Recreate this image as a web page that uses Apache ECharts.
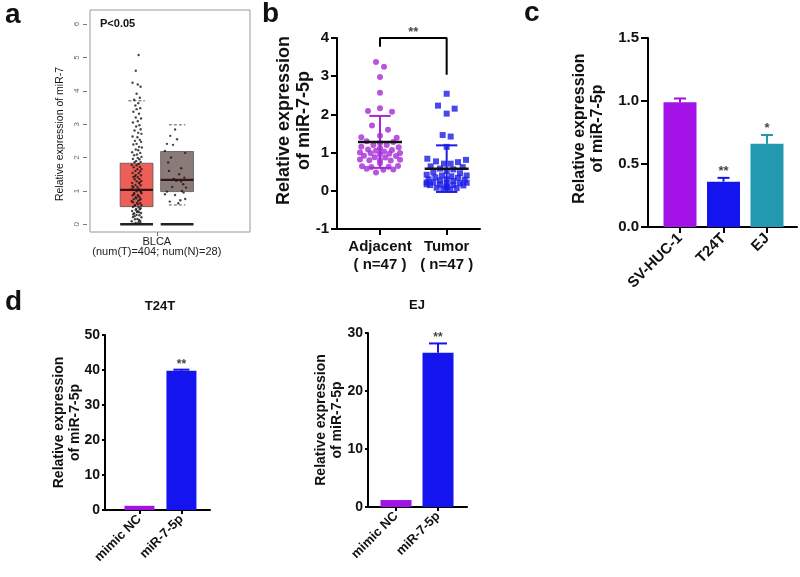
<!DOCTYPE html>
<html>
    <head>
        <title>mir7_panels</title>
        <script src="https://cdnjs.cloudflare.com/ajax/libs/echarts/6.0.0/echarts.min.js"></script>
        <style>
            body { margin: 0; background: #fff; }
        </style>
    </head>
    <body>
        <div id="main" style="width: 800px; height: 577px;"></div>
        <script>
            // ---- panel a : GEPIA box plot (BLCA)
            var aGroups = ['Tumor', 'Normal'];
            // [lower whisker, Q1, median, Q3, upper whisker]
            var aBoxes = [
                [0, 0.53, 1.03, 1.83, 3.7],
                [0.58, 0.98, 1.33, 2.18, 2.98]
            ];
            // jittered points: [offset from group, value]
            var aTumorPts = [
                [0.05,5.07],[-0.02,4.6],[-0.1,4.24],[0.03,4.19],[0.1,4.12],[0.0,3.91],[0.08,3.79],[-0.06,3.73],
                [0.04,3.63],[-0.03,3.56],[0.09,3.48],[0.0,3.45],[-0.08,3.37],[0.06,3.31],[-0.02,3.2],[0.11,3.17],
                [0.03,3.09],[-0.09,3.05],[0.07,2.97],[-0.01,2.93],[0.1,2.85],[-0.05,2.81],[0.04,2.74],[0.12,2.71],
                [-0.1,2.63],[0.02,2.61],[0.08,2.53],[-0.04,2.5],[0.11,2.47],[0.0,2.41],[-0.08,2.39],[0.06,2.32],
                [0.13,2.3],[-0.02,2.24],[0.04,2.22],[-0.11,2.16],[0.09,2.14],[0.01,2.09],[-0.06,2.07],[0.12,2.02],
                [0.03,1.99],[-0.09,1.96],[0.07,1.95],[-0.01,1.9],[0.1,1.87],[-0.05,1.86],[0.05,1.81],[-0.12,1.78],
                [0.0,1.77],[0.08,1.72],[-0.07,1.71],[0.12,1.66],[0.02,1.65],[-0.03,1.6],[0.09,1.59],[-0.1,1.54],
                [0.05,1.53],[-0.02,1.48],[0.11,1.47],[-0.08,1.42],[0.03,1.41],[0.07,1.36],[-0.05,1.35],[0.12,1.3],
                [0.0,1.29],[-0.11,1.24],[0.06,1.23],[-0.03,1.18],[0.1,1.17],[0.02,1.12],[-0.08,1.11],[0.05,1.06],
                [-0.12,1.05],[0.09,1.0],[0.0,0.99],[-0.06,0.94],[0.12,0.93],[0.03,0.88],[-0.1,0.87],[0.07,0.82],
                [-0.02,0.81],[0.1,0.76],[-0.07,0.75],[0.04,0.7],[-0.12,0.69],[0.01,0.64],[0.09,0.63],[-0.04,0.58],
                [0.12,0.57],[-0.09,0.52],[0.05,0.51],[-0.01,0.46],[0.08,0.45],[-0.11,0.4],[0.03,0.39],[0.11,0.34],
                [-0.06,0.33],[0.0,0.28],[0.07,0.27],[-0.09,0.22],[0.12,0.21],[0.02,0.16],[-0.04,0.15],[0.09,0.1],
                [-0.12,0.09],[0.05,0.06],[-0.02,0.04],[0.1,0.03],[-0.07,0.02],[0.06,0.13],[-0.05,0.24],[0.01,0.37],
                [-0.04,1.44],[0.08,1.26],[-0.1,1.14],[0.02,1.02],[0.11,0.97],[-0.06,0.9],[0.04,0.85],[-0.01,0.78],
                [0.07,0.73],[-0.09,0.66],[0.03,0.6],[-0.05,0.55],[0.1,0.48],[-0.02,0.43],[0.06,0.36],[-0.08,0.3]
            ];
            var aNormalPts = [
                [-0.05,2.84],[-0.17,2.65],[-0.25,2.41],[-0.1,2.38],[0.2,2.14],[-0.3,2.2],[0.1,1.68],
                [-0.2,1.6],[0.18,1.4],[-0.02,1.3],[0.1,1.28],[-0.25,0.98],[0.12,1.0],[-0.05,0.88],
                [-0.18,0.68],[0.2,0.76],[0.03,0.63],[-0.12,1.12],[0.15,1.2],[-0.3,0.9],[0.05,1.5],
                [-0.15,2.0],[0.0,2.55],[0.16,0.95],[-0.08,1.36],[0.22,1.1],[-0.22,1.85],[0.08,0.72]
            ];
            var aYTicks = [0, 1, 2, 3, 4, 5, 6];

            // ---- panel b : scatter with mean +/- SD
            var bCats = ['Adjacent', 'Tumor'];
            var bN = [47, 47];
            var bAdjacent = [
                [-0.06,3.37],[0.06,3.25],[0,2.98],[0,2.57],[0,2.16],[-0.18,2.09],[0.18,2.07],[-0.12,1.71],
                [0.12,1.6],[0,1.44],[-0.28,1.4],[0.25,1.39],
                [-0.2,1.3],[0.2,1.28],[0,1.25],[-0.1,1.2],[0.1,1.2],[-0.28,1.15],[0.28,1.14],[0,1.12],
                [-0.18,1.08],[0.18,1.07],[-0.06,1.05],[0.06,1.03],[-0.3,1.0],[0.3,0.99],[-0.14,0.98],
                [0.14,0.97],[0,0.95],[-0.24,0.92],[0.24,0.91],[-0.08,0.88],[0.08,0.87],
                [-0.3,0.82],[0.3,0.81],[-0.16,0.8],[0.16,0.79],[0,0.8],[0,0.72],[-0.27,0.64],[-0.13,0.62],
                [0.13,0.63],[0.27,0.65],[-0.06,0.48],[0.05,0.55],[0.2,0.56],[-0.2,0.58]
            ];
            var bTumor = [
                [0,2.54],[-0.13,2.23],[0.12,2.15],[0,2.02],[-0.06,1.46],[0.06,1.42],[0,1.15],
                [-0.29,0.84],[0.29,0.81],[-0.16,0.77],[0.17,0.75],[-0.04,0.71],[0.06,0.71],[-0.24,0.64],[0.24,0.62],
                [-0.1,0.58],[0.1,0.56],[0,0.52],[-0.2,0.48],[0.2,0.46],[-0.3,0.42],[0.3,0.4],[-0.07,0.4],[0.07,0.38],
                [-0.17,0.35],[0.17,0.34],[-0.27,0.3],[0.27,0.29],[0,0.3],[-0.1,0.27],[0.1,0.26],[-0.3,0.22],
                [0.3,0.21],[-0.2,0.22],[0.2,0.2],[0,0.2],
                [-0.1,0.16],[0.1,0.15],[-0.25,0.15],[0.25,0.14],[0,0.1],[-0.15,0.08],[0.15,0.07],[-0.05,0.05],
                [0.05,0.04],[0,0.12],[-0.3,0.17]
            ];
            var bMean = [1.28, 0.58];
            var bSD = [0.68, 0.61];
            var bBracket = [3.77, 4.0, 3.04];   // left leg, top, right leg
            var bSig = '**';

            // ---- panel c : cell lines
            var cCats = ['SV-HUC-1', 'T24T', 'EJ'];
            var cVals = [0.99, 0.36, 0.66];
            var cErr = [0.03, 0.03, 0.07];
            var cSig = ['', '**', '*'];

            // ---- panel d : mimic transfection
            var dCats = ['mimic NC', 'miR-7-5p'];
            var dT24Vals = [1.2, 39.8];
            var dT24Err = [0, 0.3];
            var dEJVals = [1.2, 26.6];
            var dEJErr = [0, 1.6];
            var dSig = ['', '**'];

            var FONT = 'Liberation Sans, Arial, sans-serif';
            var PURPLE = '#a312e6';
            var BLUE = '#1414ee';
            var TEAL = '#2399b0';
            var cColors = [PURPLE, BLUE, TEAL];
            var dColors = [PURPLE, BLUE];

            function blackX(grid, min, max, ticks, fmt, size, rotate, tick) {
                return {
                    type: 'value', gridIndex: grid, min: min, max: max,
                    axisLine: { show: true, onZero: false, lineStyle: { color: '#000', width: 2 } },
                    axisTick: { show: true, customValues: ticks, length: tick, lineStyle: { color: '#000', width: 2 } },
                    axisLabel: {
                        customValues: ticks, formatter: fmt, rotate: rotate || 0, margin: tick + 3,
                        fontFamily: FONT, fontWeight: 'bold', fontSize: size, color: '#111', lineHeight: size + 3
                    },
                    splitLine: { show: false }
                };
            }
            function blackY(grid, min, max, interval, size, nameSize, gap, tick, shift, fmt) {
                return {
                    type: 'value', gridIndex: grid, min: min, max: max, interval: interval,
                    name: 'Relative expression\nof miR-7-5p', nameLocation: 'middle', nameGap: gap,
                    nameMoveOverlap: false,
                    nameTextStyle: {
                        fontFamily: FONT, fontWeight: 'bold', fontSize: nameSize, color: '#111', lineHeight: nameSize + 2,
                        padding: [0, 0, 0, shift]
                    },
                    axisLine: { show: true, onZero: false, lineStyle: { color: '#000', width: 2 } },
                    axisTick: { show: true, length: tick, lineStyle: { color: '#000', width: 2 } },
                    axisLabel: { fontFamily: FONT, fontWeight: 'bold', fontSize: size, color: '#111', margin: tick + 2, formatter: fmt },
                    splitLine: { show: false }
                };
            }

            // error bar (upward only) for bar panels
            function errBars(xi, yi, vals, errs, colors, capPx) {
                return {
                    type: 'custom', xAxisIndex: xi, yAxisIndex: yi, z: 1,
                    data: vals.map(function (v, i) { return [i, v, v + errs[i]]; }),
                    renderItem: function (params, api) {
                        var i = params.dataIndex;
                        if (errs[i] <= 0) return null;
                        var p0 = api.coord([api.value(0), api.value(1)]);
                        var p1 = api.coord([api.value(0), api.value(2)]);
                        var st = { stroke: colors[i], lineWidth: 2 };
                        return {
                            type: 'group', children: [
                                { type: 'line', shape: { x1: p0[0], y1: p0[1], x2: p1[0], y2: p1[1] }, style: st },
                                { type: 'line', shape: { x1: p1[0] - capPx / 2, y1: p1[1], x2: p1[0] + capPx / 2, y2: p1[1] }, style: st }
                            ]
                        };
                    }
                };
            }
            function stars(xi, yi, vals, errs, sig, size) {
                return {
                    type: 'scatter', xAxisIndex: xi, yAxisIndex: yi, symbolSize: 0, z: 3,
                    data: vals.map(function (v, i) { return [i, v + errs[i]]; }),
                    label: {
                        show: true, position: 'top', distance: -5,
                        formatter: function (p) { return sig[p.dataIndex]; },
                        fontFamily: FONT, fontWeight: 'bold', fontSize: size, color: '#111'
                    }
                };
            }
            function bars(xi, yi, vals, colors, w) {
                return {
                    type: 'bar', xAxisIndex: xi, yAxisIndex: yi, barWidth: w, z: 2,
                    data: vals.map(function (v, i) { return { value: [i, v], itemStyle: { color: colors[i] } }; })
                };
            }
            function txt(x, y, s, font, align, rot) {
                var el = {
                    type: 'text', x: x, y: y,
                    style: {
                        text: s, font: font, fill: '#111',
                        align: align, verticalAlign: 'middle', textAlign: align, textVerticalAlign: 'middle'
                    }
                };
                if (rot) el.rotation = rot;
                return el;
            }

            var chart = echarts.init(document.getElementById('main'));
            var option = {
                animation: false,
                backgroundColor: '#fff',
                grid: [
                    { left: 90, top: 10, width: 160, height: 222, show: true, borderColor: '#9a9a9a', borderWidth: 1, backgroundColor: '#fff' },
                    { left: 337, top: 38, width: 143, height: 191 },
                    { left: 648, top: 38, width: 149, height: 189 },
                    { left: 105, top: 335, width: 105, height: 175 },
                    { left: 368, top: 333, width: 99, height: 174 }
                ],
                xAxis: [
                    {
                        type: 'value', gridIndex: 0, min: -1.15, max: 2.8,
                        axisLine: { show: false, onZero: false },
                        axisTick: { show: true, customValues: [0.5], length: 4, lineStyle: { color: '#777' } },
                        axisLabel: {
                            customValues: [0.5], margin: 5, fontFamily: FONT, fontSize: 11, color: '#222', lineHeight: 10,
                            formatter: function () { return 'BLCA\n(num(T)=404; num(N)=28)'; }
                        },
                        splitLine: { show: false }
                    },
                    blackX(1, -0.645, 1.5, [0, 1], function (v) {
                        var i = Math.round(v); return bCats[i] + '\n( n=' + bN[i] + ' )';
                    }, 15, 0, 6),
                    blackX(2, -0.736, 2.69, [0, 1, 2], function (v) { return cCats[Math.round(v)]; }, 15, 45, 6),
                    blackX(3, -0.82, 1.68, [0, 1], function (v) { return dCats[Math.round(v)]; }, 13, 45, 4),
                    blackX(4, -0.667, 1.69, [0, 1], function (v) { return dCats[Math.round(v)]; }, 13, 45, 4)
                ],
                yAxis: [
                    {
                        type: 'value', gridIndex: 0, min: -0.23, max: 6.42, offset: 3,
                        axisLine: { show: false, onZero: false },
                        axisTick: { show: true, customValues: aYTicks, length: 4, lineStyle: { color: '#777' } },
                        axisLabel: { customValues: aYTicks, rotate: 90, fontFamily: FONT, fontSize: 8, color: '#666', margin: 3 },
                        splitLine: { show: false }
                    },
                    blackY(1, -1, 4, 1, 15, 18, 23, 6, 26),
                    blackY(2, 0, 1.5, 0.5, 15, 16, 41, 7, 8, function (v) { return v.toFixed(1); }),
                    blackY(3, 0, 50, 10, 14, 14, 22, 3, 0),
                    blackY(4, 0, 30, 10, 14, 14, 23, 3, 0)
                ],
                graphic: [
                    txt(5, 15, 'a', 'bold 28px ' + FONT, 'left'),
                    txt(262, 14, 'b', 'bold 28px ' + FONT, 'left'),
                    txt(524, 13, 'c', 'bold 28px ' + FONT, 'left'),
                    txt(5, 302, 'd', 'bold 28px ' + FONT, 'left'),
                    txt(100, 24, 'P<0.05', 'bold 11px ' + FONT, 'left'),
                    txt(60, 134, 'Relative expression of miR-7', '10.5px ' + FONT, 'center', Math.PI / 2),
                    txt(160, 306, 'T24T', 'bold 13px ' + FONT, 'center'),
                    txt(417, 305, 'EJ', 'bold 13px ' + FONT, 'center')
                ],
                series: [
                    // a: boxes
                    {
                        type: 'custom', xAxisIndex: 0, yAxisIndex: 0, z: 1,
                        data: aBoxes.map(function (b, i) { return [i].concat(b); }),
                        renderItem: function (params, api) {
                            var i = params.dataIndex;
                            var x = api.value(0);
                            var lo = api.coord([x, api.value(1)]);
                            var q1 = api.coord([x, api.value(2)]);
                            var md = api.coord([x, api.value(3)]);
                            var q3 = api.coord([x, api.value(4)]);
                            var hi = api.coord([x, api.value(5)]);
                            var z0 = api.coord([x, 0]);
                            var half = api.size([0.81, 0])[0] / 2;
                            var fill = i === 0 ? '#ee5e59' : '#8b7b78';
                            var dash = { stroke: '#555', lineWidth: 1, lineDash: [3, 2] };
                            var kids = [
                                { type: 'rect', shape: { x: q1[0] - half, y: q3[1], width: half * 2, height: q1[1] - q3[1] },
                                  style: { fill: fill, stroke: '#555', lineWidth: 0.8 } },
                                { type: 'line', shape: { x1: hi[0] - half / 2, y1: hi[1], x2: hi[0] + half / 2, y2: hi[1] }, style: dash },
                                { type: 'line', shape: { x1: z0[0] - half, y1: z0[1], x2: z0[0] + half, y2: z0[1] }, style: { stroke: '#222', lineWidth: 2.5 } },
                                { type: 'line', shape: { x1: md[0] - half, y1: md[1], x2: md[0] + half, y2: md[1] }, style: { stroke: '#3a1414', lineWidth: 2.2 }, z2: 5 }
                            ];
                            if (api.value(1) > 0) {
                                kids.push({ type: 'line', shape: { x1: lo[0] - half / 2, y1: lo[1], x2: lo[0] + half / 2, y2: lo[1] }, style: dash });
                            }
                            return { type: 'group', children: kids };
                        }
                    },
                    {
                        type: 'scatter', xAxisIndex: 0, yAxisIndex: 0, symbolSize: 2.4, z: 3,
                        itemStyle: { color: '#1a1a1a' },
                        data: aTumorPts.map(function (p) { return [0 + p[0], p[1]]; })
                            .concat(aNormalPts.map(function (p) { return [1 + p[0], p[1]]; }))
                    },
                    // b: points
                    {
                        type: 'scatter', xAxisIndex: 1, yAxisIndex: 1, symbol: 'circle', symbolSize: 6, z: 2,
                        itemStyle: { color: '#a52ad6' },
                        data: bAdjacent.map(function (p) { return [0 + p[0], p[1]]; })
                    },
                    {
                        type: 'scatter', xAxisIndex: 1, yAxisIndex: 1, symbol: 'rect', symbolSize: 6, z: 2,
                        itemStyle: { color: '#1c1ce6' },
                        data: bTumor.map(function (p) { return [1 + p[0], p[1]]; })
                    },
                    // b: mean +/- SD
                    {
                        type: 'custom', xAxisIndex: 1, yAxisIndex: 1, z: 4,
                        data: bMean.map(function (m, i) { return [i, m, m - bSD[i], m + bSD[i]]; }),
                        renderItem: function (params, api) {
                            var i = params.dataIndex;
                            var x = api.value(0);
                            var m = api.coord([x, api.value(1)]);
                            var lo = api.coord([x, api.value(2)]);
                            var hi = api.coord([x, api.value(3)]);
                            var mh = api.size([0.66, 0])[0] / 2;
                            var ch = api.size([0.32, 0])[0] / 2;
                            var col = i === 0 ? '#a52ad6' : '#1c1ce6';
                            var st = { stroke: col, lineWidth: 2 };
                            return {
                                type: 'group', children: [
                                    { type: 'line', shape: { x1: m[0], y1: lo[1], x2: m[0], y2: hi[1] }, style: st },
                                    { type: 'line', shape: { x1: m[0] - ch, y1: lo[1], x2: m[0] + ch, y2: lo[1] }, style: st },
                                    { type: 'line', shape: { x1: m[0] - ch, y1: hi[1], x2: m[0] + ch, y2: hi[1] }, style: st },
                                    { type: 'line', shape: { x1: m[0] - mh, y1: m[1], x2: m[0] + mh, y2: m[1] }, style: { stroke: '#111', lineWidth: 2.5 } }
                                ]
                            };
                        }
                    },
                    // b: significance bracket
                    {
                        type: 'line', xAxisIndex: 1, yAxisIndex: 1, symbol: 'none', clip: false, z: 3,
                        lineStyle: { color: '#000', width: 2 },
                        data: [[0, bBracket[0]], [0, bBracket[1]], [1, bBracket[1]], [1, bBracket[2]]]
                    },
                    {
                        type: 'scatter', xAxisIndex: 1, yAxisIndex: 1, symbolSize: 0, clip: false,
                        data: [[0.5, bBracket[1]]],
                        label: { show: true, position: 'top', distance: -6, formatter: bSig, fontFamily: FONT, fontWeight: 'bold', fontSize: 13, color: '#111' }
                    },
                    // c
                    bars(2, 2, cVals, cColors, 33),
                    errBars(2, 2, cVals, cErr, cColors, 12),
                    stars(2, 2, cVals, cErr, cSig, 13),
                    // d T24T
                    bars(3, 3, dT24Vals, dColors, 30),
                    errBars(3, 3, dT24Vals, dT24Err, dColors, 16),
                    stars(3, 3, dT24Vals, dT24Err, dSig, 12),
                    // d EJ
                    bars(4, 4, dEJVals, dColors, 31),
                    errBars(4, 4, dEJVals, dEJErr, dColors, 18),
                    stars(4, 4, dEJVals, dEJErr, dSig, 12)
                ]
            };
            chart.setOption(option);
        </script>
    </body>
</html>
